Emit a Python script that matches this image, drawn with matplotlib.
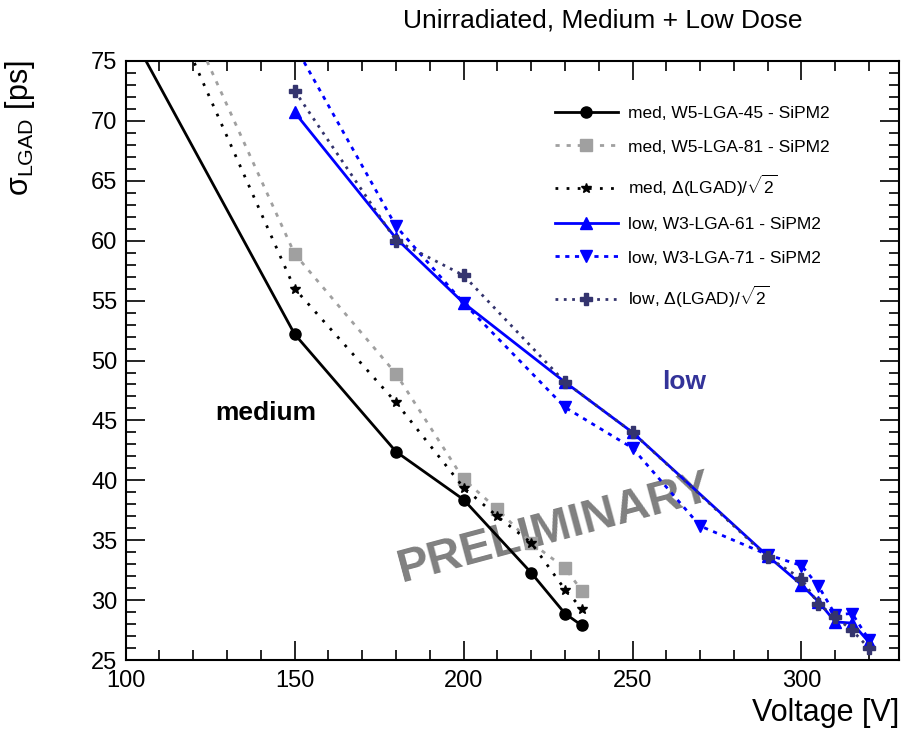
import numpy as np
import matplotlib
matplotlib.use("Agg")
import matplotlib.pyplot as plt
from matplotlib.ticker import MultipleLocator, AutoMinorLocator

plt.rcParams['font.family'] = ['Liberation Sans', 'DejaVu Sans']
plt.rcParams['mathtext.fontset'] = 'custom'
plt.rcParams['mathtext.rm'] = 'Liberation Sans'
plt.rcParams['mathtext.it'] = 'Liberation Sans:italic'
plt.rcParams['mathtext.bf'] = 'Liberation Sans:bold'

# ---- data ----
med45_v = [100, 150, 180, 200, 220, 230, 235]
med45_s = [78.1, 52.2, 42.4, 38.4, 32.3, 28.9, 27.9]

med81_v = [120, 150, 180, 200, 210, 220, 230, 235]
med81_s = [77.5, 58.9, 48.9, 40.1, 37.6, 34.8, 32.7, 30.8]

medD_v = [115, 150, 180, 200, 210, 220, 230, 235]
medD_s = [78.2, 56.0, 46.5, 39.4, 37.0, 34.8, 30.9, 29.3]

low61_v = [150, 180, 200, 230, 250, 290, 300, 305, 310, 315, 320]
low61_s = [70.7, 60.2, 54.8, 48.2, 44.0, 33.7, 31.3, 29.9, 28.2, 28.1, 26.5]

low71_v = [150, 180, 200, 230, 250, 270, 290, 300, 305, 310, 315, 320]
low71_s = [76.3, 61.2, 54.8, 46.1, 42.7, 36.2, 33.8, 32.9, 31.2, 28.8, 28.9, 26.7]

lowD_v = [150, 180, 200, 230, 250, 290, 300, 305, 310, 315, 320]
lowD_s = [72.5, 60.0, 57.1, 48.2, 44.0, 33.6, 31.8, 29.7, 28.6, 27.5, 26.0]

labels = ["med, W5-LGA-45 - SiPM2",
          "med, W5-LGA-81 - SiPM2",
          r"med, $\Delta$(LGAD)/$\sqrt{2}$",
          "low, W3-LGA-61 - SiPM2",
          "low, W3-LGA-71 - SiPM2",
          r"low, $\Delta$(LGAD)/$\sqrt{2}$"]

gray = '#a0a0a0'
navy = '#34346e'
blue = '#0000ff'

fig = plt.figure(figsize=(9.04, 7.32), dpi=100)
ax = fig.add_axes([0.139, 0.098, 0.856, 0.819])

ax.plot(med45_v, med45_s, color='black', lw=2, marker='o', ms=8, label=labels[0], zorder=3)
ax.plot(med81_v, med81_s, color=gray, lw=2, dashes=(1.5, 2.5), marker='s', ms=8, label=labels[1], zorder=3)
ax.plot(medD_v, medD_s, color='black', lw=2, dashes=(1, 3), marker='*', ms=7, label=labels[2], zorder=3)
ax.plot(low61_v, low61_s, color=blue, lw=2, marker='^', ms=8, label=labels[3], zorder=3)
ax.plot(low71_v, low71_s, color=blue, lw=2, dashes=(1.5, 2), marker='v', ms=8, label=labels[4], zorder=3)
ax.plot(lowD_v, lowD_s, color=navy, lw=2, dashes=(1, 2), marker='P', ms=9, label=labels[5], zorder=3)

ax.set_xlim(100, 329)
ax.set_ylim(25, 75)
ax.xaxis.set_major_locator(MultipleLocator(50))
ax.xaxis.set_minor_locator(AutoMinorLocator(5))
ax.yaxis.set_major_locator(MultipleLocator(5))
ax.yaxis.set_minor_locator(AutoMinorLocator(5))
ax.tick_params(which='both', direction='in', top=True, right=True, labelsize=17, width=1.2)
ax.tick_params(which='major', length=14)
ax.tick_params(which='minor', length=7)
ax.tick_params(axis='x', pad=7)
ax.tick_params(axis='y', pad=6)
for s in ax.spines.values():
    s.set_linewidth(1.5)

ax.set_xlabel("Voltage [V]", fontsize=22, loc='right')
ax.xaxis.set_label_coords(1.0, -0.063)
ax.set_ylabel(r"σ$_{\mathregular{LGAD}}$ [ps]", fontsize=22, loc='top')
ax.yaxis.set_label_coords(-0.114, 1.0)

fig.text(0.667, 0.972, "Unirradiated, Medium + Low Dose", fontsize=19, ha='center', va='center')

ax.text(141.4, 45.6, "medium", fontsize=19, fontweight='bold', ha='center', va='center')
ax.text(265.4, 48.2, "low", fontsize=19, fontweight='bold', color='#333399', ha='center', va='center')
ax.text(227, 36.0, "PRELIMINARY", fontsize=34, fontweight='bold', color='#808080',
        rotation=15, ha='center', va='center', zorder=1)

ax.legend(loc='upper left', bbox_to_anchor=(555 / 904, 1 - 106 / 732), bbox_transform=fig.transFigure,
          frameon=False, fontsize=12.5, numpoints=1, handlelength=3.6, handletextpad=0.6,
          labelspacing=1.05, borderpad=0, borderaxespad=0)

fig.savefig("out.png", dpi=100)
